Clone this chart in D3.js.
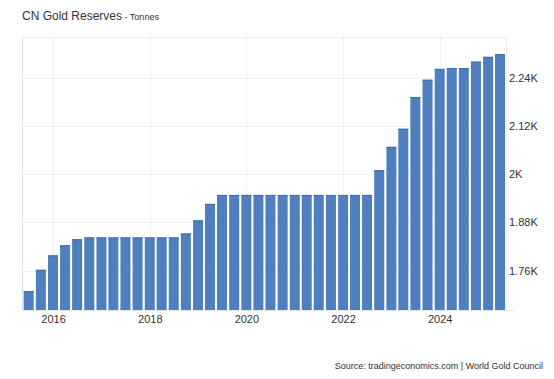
<!DOCTYPE html>
<html>
<head>
<meta charset="utf-8">
<script src="https://cdn.jsdelivr.net/npm/d3@7"></script>
<style>
  body { margin: 0; background: #fff; }
  svg text { font-family: "Liberation Sans", Arial, sans-serif; }
</style>
</head>
<body>
<div id="chart"></div>
<script>
// quarterly reserves, tonnes (Q3 2015 .. Q2 2025)
var quarters = ["2015-07","2015-10",
  "2016-01","2016-04","2016-07","2016-10",
  "2017-01","2017-04","2017-07","2017-10",
  "2018-01","2018-04","2018-07","2018-10",
  "2019-01","2019-04","2019-07","2019-10",
  "2020-01","2020-04","2020-07","2020-10",
  "2021-01","2021-04","2021-07","2021-10",
  "2022-01","2022-04","2022-07","2022-10",
  "2023-01","2023-04","2023-07","2023-10",
  "2024-01","2024-04","2024-07","2024-10",
  "2025-01","2025-04"];
var reserves = [1709, 1762,
  1798, 1823, 1838, 1842.6,
  1842.6, 1842.6, 1842.6, 1842.6,
  1842.6, 1842.6, 1842.6, 1852.5,
  1885, 1926, 1948.3, 1948.3,
  1948.3, 1948.3, 1948.3, 1948.3,
  1948.3, 1948.3, 1948.3, 1948.3,
  1948.3, 1948.3, 1948.3, 2010,
  2068, 2113, 2192, 2235,
  2262, 2264, 2264, 2280,
  2292, 2299];
var yTicks = [1760, 1880, 2000, 2120, 2240];
var yTickLabels = ["1.76K", "1.88K", "2K", "2.12K", "2.24K"];
var xTickYears = [2016, 2018, 2020, 2022, 2024];

var parse = d3.timeParse("%Y-%m");
var data = quarters.map(function(q, i) { return {date: parse(q), value: reserves[i]}; });

var W = 554, H = 379;
var plotL = 22.6, plotR = 506, plotT = 36.5, plotB = 310;

var svg = d3.select("#chart").append("svg")
  .attr("width", W).attr("height", H);

var x = d3.scaleTime()
  .domain([new Date(2015, 4, 16), new Date(2025, 4, 16)])
  .range([plotL, plotR]);
var y = d3.scaleLinear()
  .domain([1662, 2342.6])
  .range([plotB, plotT]);

// grid
var grid = svg.append("g");
grid.selectAll(".hg")
  .data(yTicks.concat([2342.6]))
  .enter().append("line")
    .attr("x1", plotL).attr("x2", plotR)
    .attr("y1", function(d) { return Math.round(y(d)) + 0.5; })
    .attr("y2", function(d) { return Math.round(y(d)) + 0.5; })
    .style("stroke", "#e3e3e3")
    .style("stroke-dasharray", "1,1");
grid.selectAll(".vg")
  .data(xTickYears)
  .enter().append("line")
    .attr("x1", function(d) { return Math.round(x(new Date(d, 0, 1))) + 0.5; })
    .attr("x2", function(d) { return Math.round(x(new Date(d, 0, 1))) + 0.5; })
    .attr("y1", plotT).attr("y2", plotB)
    .style("stroke", "#e3e3e3")
    .style("stroke-dasharray", "1,1");
grid.append("line")
  .attr("x1", plotL).attr("x2", plotL)
  .attr("y1", plotT).attr("y2", plotB)
  .style("stroke", "#e3e3e3");
grid.append("line")
  .attr("x1", plotR + 0.5).attr("x2", plotR + 0.5)
  .attr("y1", plotT).attr("y2", plotB)
  .style("stroke", "#eeeeee");

// bars
var barW = 10;
svg.append("g")
  .selectAll("rect")
  .data(data)
  .enter().append("rect")
    .attr("x", function(d) { return x(d.date) - barW / 2; })
    .attr("y", function(d) { return y(d.value); })
    .attr("width", barW)
    .attr("height", function(d) { return plotB - y(d.value); })
    .style("fill", "#4f7fbd");
svg.append("g")
  .selectAll("line")
  .data(data)
  .enter().append("line")
    .attr("x1", function(d) { return x(d.date) - barW / 2; })
    .attr("x2", function(d) { return x(d.date) + barW / 2; })
    .attr("y1", function(d) { return y(d.value) + 0.5; })
    .attr("y2", function(d) { return y(d.value) + 0.5; })
    .style("stroke", "#3f6ea9");

// baseline
svg.append("line")
  .attr("x1", plotL).attr("x2", 514)
  .attr("y1", plotB + 0.5).attr("y2", plotB + 0.5)
  .style("stroke", "#e8e8e8");

// y axis labels (right side)
var yAxis = d3.axisRight(y)
  .tickValues(yTicks)
  .tickFormat(function(d, i) { return yTickLabels[i]; })
  .tickSize(0).tickPadding(0);
var ya = svg.append("g")
  .attr("transform", "translate(509,0)")
  .call(yAxis);
ya.select(".domain").remove();
ya.selectAll("text")
  .style("font-size", "11px")
  .style("fill", "#333");

// x axis labels
var xAxis = d3.axisBottom(x)
  .tickValues(xTickYears.map(function(d) { return new Date(d, 0, 1); }))
  .tickFormat(d3.timeFormat("%Y"))
  .tickSize(0).tickPadding(5);
var xa = svg.append("g")
  .attr("transform", "translate(0," + plotB + ")")
  .call(xAxis);
xa.select(".domain").remove();
xa.selectAll("text")
  .style("font-size", "11px")
  .style("fill", "#333");

// title
var title = svg.append("text")
  .attr("x", 22).attr("y", 20)
  .style("fill", "#333")
  .style("font-size", "12px");
title.append("tspan").text("CN Gold Reserves");
title.append("tspan").text(" - Tonnes").style("font-size", "9px");

// source
svg.append("text")
  .attr("x", 543).attr("y", 369)
  .attr("text-anchor", "end")
  .style("font-size", "9px")
  .style("fill", "#333")
  .text("Source: tradingeconomics.com | World Gold Council");
</script>
</body>
</html>
